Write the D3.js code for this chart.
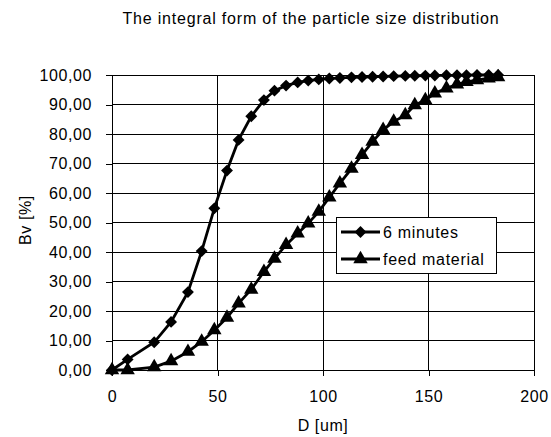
<!DOCTYPE html>
<html>
<head>
<meta charset="utf-8">
<script src="https://cdn.jsdelivr.net/npm/d3@7"></script>
<style>
  body { margin: 0; background: #fff; }
  text { font-family: Arial, "Liberation Sans", sans-serif; fill: #000; }
</style>
</head>
<body>
<div class="chart"></div>
<script>
// D [um] values shared by both series
var sizes = [0, 7.4, 20, 28, 36, 42.5, 48.5, 54.5, 60, 66, 72, 77, 82.5, 88, 93, 98, 103, 108,
    113.5, 118.5, 123.5, 128.5, 133.5, 139, 143.5, 148.5, 153, 158.5, 163.5, 168, 173, 178.5, 183];
var sixMinutes = [0, 3.6, 9.4, 16.3, 26.4, 40.3, 54.8, 67.6, 78, 86, 91.5, 94.7, 96.4, 97.5, 98.1,
    98.5, 98.8, 99.0, 99.2, 99.3, 99.4, 99.5, 99.6, 99.7, 99.75, 99.8, 99.85, 99.9, 99.9, 99.95, 100, 100, 100];
var feedMaterial = [0, 0, 1, 3, 6.2, 9.6, 13.5, 17.8, 22.6, 27.3, 33.3, 37.8, 42.4, 46.3, 49.7, 53.7,
    58.5, 63.3, 68.3, 72.9, 77.4, 81.4, 84.2, 86.4, 89.8, 91.5, 93.8, 95.5, 96.8, 97.7, 98.3, 98.9, 99.3];
var seriesNames = ["6 minutes", "feed material"];
var xTicks = [0, 50, 100, 150, 200];
var yTicks = [0, 10, 20, 30, 40, 50, 60, 70, 80, 90, 100];

var width = 551, height = 437;
var margin = { left: 112, right: 17, top: 75, bottom: 67 };

var svg = d3.select(".chart").append("svg")
    .attr("width", width)
    .attr("height", height);

var x = d3.scaleLinear().domain([0, 200]).range([margin.left, width - margin.right]);
var y = d3.scaleLinear().domain([0, 100]).range([height - margin.bottom, margin.top]);

var fmt = function (v) { return d3.format(".2f")(v).replace(".", ","); };

// gridlines
svg.append("g")
    .selectAll("line")
    .data(yTicks)
    .join("line")
    .attr("x1", x(0)).attr("x2", x(200))
    .attr("y1", d => y(d)).attr("y2", d => y(d))
    .attr("stroke", "#000").attr("stroke-width", 1).attr("shape-rendering", "crispEdges");

svg.append("g")
    .selectAll("line")
    .data(xTicks)
    .join("line")
    .attr("x1", d => x(d)).attr("x2", d => x(d))
    .attr("y1", y(100)).attr("y2", y(0))
    .attr("stroke", "#000").attr("stroke-width", 1).attr("shape-rendering", "crispEdges");

// axes
var xAxis = svg.append("g")
    .attr("transform", `translate(0,${y(0)})`)
    .call(d3.axisBottom(x).tickValues(xTicks).tickSize(6).tickPadding(15));
var yAxis = svg.append("g")
    .attr("transform", `translate(${x(0)},0)`)
    .call(d3.axisLeft(y).tickValues(yTicks).tickFormat(fmt).tickSize(6).tickPadding(14));

[xAxis, yAxis].forEach(function (a) {
    a.select(".domain").remove();
    a.selectAll("line").attr("stroke", "#000").attr("shape-rendering", "crispEdges");
    a.selectAll("text")
        .attr("font-size", 16)
        .attr("letter-spacing", 0.6)
        .attr("font-family", "Arial, 'Liberation Sans', sans-serif")
        .attr("fill", "#000");
});

// titles
svg.append("text")
    .attr("x", 311).attr("y", 24)
    .attr("text-anchor", "middle")
    .attr("font-size", 16)
    .attr("letter-spacing", 0.8)
    .text("The integral form of the particle size distribution");

svg.append("text")
    .attr("x", 323).attr("y", 431)
    .attr("text-anchor", "middle")
    .attr("font-size", 16)
    .attr("letter-spacing", 0.6)
    .text("D [um]");

svg.append("text")
    .attr("transform", `translate(31,220) rotate(-90)`)
    .attr("text-anchor", "middle")
    .attr("font-size", 16)
    .attr("letter-spacing", 0.6)
    .text("Bv [%]");

// series
var line = d3.line().x(d => x(d[0])).y(d => y(d[1]));
var diamond = d3.symbol().type(d3.symbolDiamond2).size(90);
var triangle = d3.symbol().type(d3.symbolTriangle).size(90);
var series = [
    { name: seriesNames[0], values: sixMinutes, shape: diamond },
    { name: seriesNames[1], values: feedMaterial, shape: triangle }
];

series.forEach(function (s) {
    var pts = sizes.map((d, i) => [d, s.values[i]]);
    svg.append("path")
        .datum(pts)
        .attr("fill", "none")
        .attr("stroke", "#000")
        .attr("stroke-width", 2.8)
        .attr("d", line);
    svg.append("g")
        .selectAll("path")
        .data(pts)
        .join("path")
        .attr("transform", d => `translate(${x(d[0])},${y(d[1])})`)
        .attr("d", s.shape)
        .attr("fill", "#000");
});

// legend
var legend = svg.append("g").attr("transform", "translate(336,217)");
legend.append("rect")
    .attr("width", 160).attr("height", 56)
    .attr("fill", "#fff")
    .attr("stroke", "#000")
    .attr("shape-rendering", "crispEdges");

series.forEach(function (s, i) {
    var ly = 15 + i * 27;
    legend.append("line")
        .attr("x1", 5).attr("x2", 44)
        .attr("y1", ly).attr("y2", ly)
        .attr("stroke", "#000").attr("stroke-width", 2.8);
    legend.append("path")
        .attr("transform", `translate(24.5,${ly})`)
        .attr("d", s.shape)
        .attr("fill", "#000");
    legend.append("text")
        .attr("x", 47).attr("y", ly + 6)
        .attr("font-size", 16)
        .attr("letter-spacing", 0.7)
        .text(s.name);
});
</script>
</body>
</html>
